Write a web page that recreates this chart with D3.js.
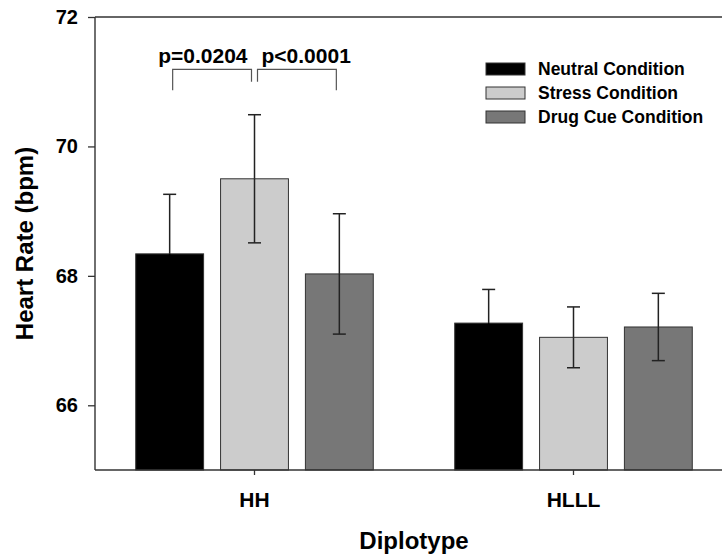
<!DOCTYPE html>
<html>
<head>
<meta charset="utf-8">
<script src="https://cdn.jsdelivr.net/npm/d3@7"></script>
<style>
  body { margin: 0; background: #fff; }
  text { font-family: "Liberation Sans", Arial, sans-serif; font-weight: bold; fill: #000; }
</style>
</head>
<body>
<div id="chart"></div>
<script>
// Data
var diplotypes = ["HH", "HLLL"];
var conditions = ["Neutral Condition", "Stress Condition", "Drug Cue Condition"];
var meanHH   = [68.34, 69.50, 68.03];
var meanHLLL = [67.27, 67.05, 67.21];
var seHH     = [0.92, 0.99, 0.93];
var seHLLL   = [0.52, 0.47, 0.52];
var yTicks   = [66, 68, 70, 72];
var pLabels  = ["p=0.0204", "p<0.0001"];

var colors = ["#000000", "#cccccc", "#777777"];

var width = 722, height = 560;
var margin = {top: 17, left: 95, bottom: 90};
var plotBottom = height - margin.bottom;   // 470
var plotRight = 733;                       // x axis runs past the right edge

var rows = [];
diplotypes.forEach(function(g, gi) {
  var means = gi === 0 ? meanHH : meanHLLL,
      ses   = gi === 0 ? seHH : seHLLL;
  conditions.forEach(function(c, ci) {
    rows.push({group: g, cond: c, ci: ci, mean: means[ci], se: ses[ci]});
  });
});

var svg = d3.select("#chart").append("svg")
  .attr("width", width)
  .attr("height", height);

var y = d3.scaleLinear().domain([65, 72]).range([plotBottom, margin.top]);

var x0 = d3.scaleBand().domain(diplotypes).range([margin.left, plotRight]).padding(0);
var x1 = d3.scaleBand().domain(conditions).range([0, x0.bandwidth()])
  .paddingInner(0.2).paddingOuter(0.48);

// bars
svg.append("g").selectAll("rect")
  .data(rows)
  .enter().append("rect")
    .attr("x", function(d) { return x0(d.group) + x1(d.cond); })
    .attr("y", function(d) { return y(d.mean); })
    .attr("width", x1.bandwidth())
    .attr("height", function(d) { return plotBottom - y(d.mean); })
    .attr("fill", function(d) { return colors[d.ci]; })
    .attr("stroke", "#333")
    .attr("stroke-width", 1);

// error bars (lower half disappears into the black bars)
var err = svg.append("g").attr("stroke-width", 1.5);
rows.forEach(function(d) {
  var cx = x0(d.group) + x1(d.cond) + x1.bandwidth() / 2;
  var low = d.ci === 0 ? "#000" : "#222";
  err.append("line").attr("x1", cx).attr("x2", cx).attr("stroke", "#222")
    .attr("y1", y(d.mean + d.se)).attr("y2", y(d.mean));
  err.append("line").attr("x1", cx).attr("x2", cx).attr("stroke", low)
    .attr("y1", y(d.mean)).attr("y2", y(d.mean - d.se));
  err.append("line").attr("x1", cx - 6.5).attr("x2", cx + 6.5).attr("stroke", "#222")
    .attr("y1", y(d.mean + d.se)).attr("y2", y(d.mean + d.se));
  err.append("line").attr("x1", cx - 6.5).attr("x2", cx + 6.5).attr("stroke", low)
    .attr("y1", y(d.mean - d.se)).attr("y2", y(d.mean - d.se));
});

// y axis
var yAxis = svg.append("g")
  .attr("transform", "translate(" + margin.left + ",0)")
  .call(d3.axisLeft(y).tickValues(yTicks).tickSize(7).tickPadding(10).tickFormat(d3.format("d")));
yAxis.select(".domain").remove();
yAxis.selectAll("line").attr("stroke", "#333").attr("stroke-width", 1.3);
yAxis.selectAll("text").style("font-size", "20px").attr("font-family", null);

// x axis
var xAxis = svg.append("g")
  .attr("transform", "translate(0," + plotBottom + ")")
  .call(d3.axisBottom(x0).tickSize(5).tickPadding(17));
xAxis.select(".domain").remove();
xAxis.selectAll("line").attr("stroke", "#333").attr("stroke-width", 1.3);
xAxis.selectAll("text").style("font-size", "21px").attr("font-family", null);

// frame: left, top, bottom lines
var frame = svg.append("g").attr("stroke", "#333").attr("stroke-width", 1.4).attr("fill", "none");
frame.append("line").attr("x1", margin.left).attr("x2", margin.left).attr("y1", margin.top).attr("y2", plotBottom);
frame.append("line").attr("x1", margin.left).attr("x2", plotRight).attr("y1", margin.top).attr("y2", margin.top);
frame.append("line").attr("x1", margin.left).attr("x2", plotRight).attr("y1", plotBottom).attr("y2", plotBottom);

// axis titles
svg.append("text")
  .attr("transform", "translate(33," + ((margin.top + plotBottom) / 2) + ") rotate(-90)")
  .attr("text-anchor", "middle")
  .style("font-size", "24px")
  .text("Heart Rate (bpm)");

svg.append("text")
  .attr("x", (margin.left + plotRight) / 2)
  .attr("y", 549)
  .attr("text-anchor", "middle")
  .style("font-size", "24px")
  .text("Diplotype");

// significance brackets on HH group
function cx(g, c) { return x0(g) + x1(c) + x1.bandwidth() / 2; }
var br = svg.append("g").attr("stroke", "#555").attr("stroke-width", 1.2).attr("fill", "none");
var yTop = y(71.19), yOuter = y(70.87), yInner = y(71.0);
var sx = cx("HH", conditions[1]);
br.append("path").attr("d",
  "M" + (cx("HH", conditions[0]) + 3) + "," + yOuter + "V" + yTop +
  "H" + (sx - 3) + "V" + yInner);
br.append("path").attr("d",
  "M" + (sx + 3) + "," + yInner + "V" + yTop +
  "H" + (cx("HH", conditions[2]) - 3) + "V" + yOuter);

svg.append("text").attr("x", sx - 7).attr("y", 63).attr("text-anchor", "end")
  .style("font-size", "21px").text(pLabels[0]);
svg.append("text").attr("x", sx + 7).attr("y", 63).attr("text-anchor", "start")
  .style("font-size", "21px").text(pLabels[1]);

// legend
var legend = svg.append("g").attr("transform", "translate(486,63)");
conditions.forEach(function(c, i) {
  var row = legend.append("g").attr("transform", "translate(0," + (i * 24) + ")");
  row.append("rect").attr("width", 39).attr("height", 12)
    .attr("fill", colors[i]).attr("stroke", "#333").attr("stroke-width", 1);
  row.append("text").attr("x", 52).attr("y", 12).style("font-size", "17.5px").text(c);
});
</script>
</body>
</html>
